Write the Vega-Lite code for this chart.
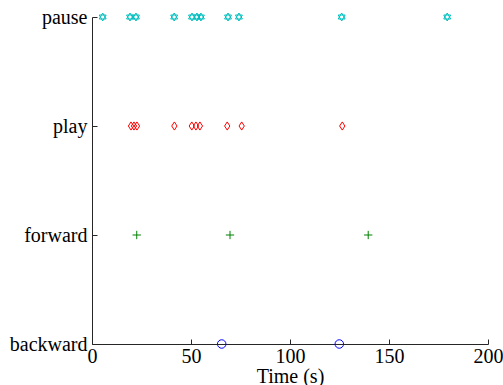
{
  "$schema": "https://vega.github.io/schema/vega-lite/v6.json",
  "width": 396,
  "height": 327,
  "autosize": "none",
  "padding": {"left": 92, "top": 17, "right": 15, "bottom": 41},
  "background": "white",
  "config": {
    "view": {"stroke": null},
    "font": "Liberation Serif",
    "axis": {
      "labelFont": "Liberation Serif",
      "titleFont": "Liberation Serif",
      "labelFontSize": 20,
      "titleFontSize": 20,
      "titleFontWeight": "normal",
      "labelColor": "black",
      "titleColor": "black",
      "domainColor": "#262626",
      "tickColor": "#262626",
      "grid": false,
      "tickSize": -5
    }
  },
  "data": {
    "values": [
      {"t": 5.4, "event": "pause"},
      {"t": 19.2, "event": "pause"},
      {"t": 22.2, "event": "pause"},
      {"t": 41.5, "event": "pause"},
      {"t": 50.5, "event": "pause"},
      {"t": 53.0, "event": "pause"},
      {"t": 55.0, "event": "pause"},
      {"t": 68.7, "event": "pause"},
      {"t": 74.2, "event": "pause"},
      {"t": 126.1, "event": "pause"},
      {"t": 179.4, "event": "pause"},
      {"t": 19.7, "event": "play"},
      {"t": 21.2, "event": "play"},
      {"t": 22.7, "event": "play"},
      {"t": 41.6, "event": "play"},
      {"t": 50.4, "event": "play"},
      {"t": 52.5, "event": "play"},
      {"t": 54.5, "event": "play"},
      {"t": 68.3, "event": "play"},
      {"t": 75.6, "event": "play"},
      {"t": 126.4, "event": "play"},
      {"t": 22.6, "event": "forward"},
      {"t": 69.7, "event": "forward"},
      {"t": 139.5, "event": "forward"},
      {"t": 65.5, "event": "backward"},
      {"t": 124.9, "event": "backward"}
    ]
  },
  "mark": {"type": "point", "filled": false, "strokeWidth": 1, "opacity": 1},
  "encoding": {
    "x": {
      "field": "t",
      "type": "quantitative",
      "title": "Time (s)",
      "scale": {"domain": [0, 200], "nice": false, "zero": false},
      "axis": {"values": [0, 50, 100, 150, 200], "labelPadding": 7, "titlePadding": 0, "labelFlush": false}
    },
    "y": {
      "field": "event",
      "type": "nominal",
      "title": null,
      "scale": {"type": "point", "domain": ["pause", "play", "forward", "backward"], "padding": 0},
      "axis": {"labelPadding": 10}
    },
    "shape": {
      "field": "event",
      "type": "nominal",
      "legend": null,
      "scale": {
        "domain": ["pause", "play", "forward", "backward"],
        "range": [
          "M0,-1L0.866,0.5L-0.866,0.5Z M0,1L0.866,-0.5L-0.866,-0.5Z",
          "M0,-1L0.65,0L0,1L-0.65,0Z",
          "M-1,0L1,0M0,-1L0,1",
          "circle"
        ]
      }
    },
    "color": {
      "field": "event",
      "type": "nominal",
      "legend": null,
      "scale": {
        "domain": ["pause", "play", "forward", "backward"],
        "range": ["#00bfbf", "#ff0000", "#008000", "#0000ff"]
      }
    },
    "size": {
      "field": "event",
      "type": "nominal",
      "legend": null,
      "scale": {
        "domain": ["pause", "play", "forward", "backward"],
        "range": [64, 72, 49, 30]
      }
    }
  }
}
